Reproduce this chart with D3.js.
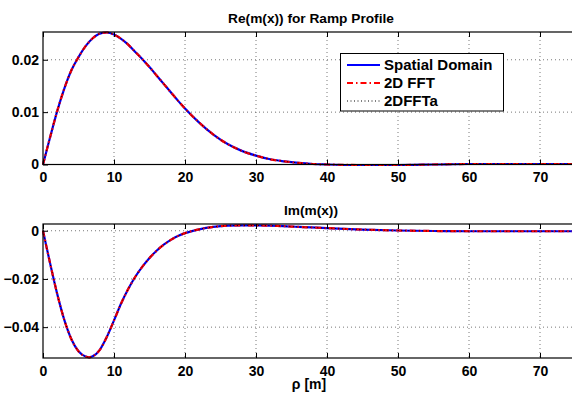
<!DOCTYPE html>
<html>
<head>
<meta charset="utf-8">
<script src="https://cdn.jsdelivr.net/npm/d3@7"></script>
<style>
  body { margin: 0; background: #fff; }
  text { font-family: "Liberation Sans", Arial, sans-serif; font-weight: bold; }
</style>
</head>
<body>
<script>
// chart size
var svgWidth = 572;
var svgHeight = 394;

// sample positions and values
var rhoRe = [0, 1, 2, 3, 4, 5, 6, 7, 8, 9, 10, 11, 12, 13, 14, 15, 16, 17, 18, 19, 20, 22, 24, 26, 28, 30, 32, 34, 36, 38, 40, 45, 50, 55, 60, 65, 70, 75];
var reSpatial = [0, 0.0052, 0.0102, 0.0145, 0.0180, 0.0205, 0.0226, 0.0241, 0.0250, 0.0252, 0.0248, 0.0240, 0.0229, 0.0215, 0.0201, 0.0186, 0.0170, 0.0154, 0.0138, 0.0122, 0.0107, 0.0080, 0.0057, 0.0039, 0.0026, 0.0017, 0.0010, 0.0006, 0.0003, 0.0001, 0, -0.0001, -0.0001, 0, 0.0001, 0.0001, 0.0001, 0.0001];
var reFFT = [0, 0.0052, 0.0102, 0.0145, 0.0180, 0.0205, 0.0226, 0.0241, 0.0250, 0.0252, 0.0248, 0.0240, 0.0229, 0.0215, 0.0201, 0.0186, 0.0170, 0.0154, 0.0138, 0.0122, 0.0107, 0.0080, 0.0057, 0.0039, 0.0026, 0.0017, 0.0010, 0.0006, 0.0003, 0.0001, 0, -0.0001, -0.0001, 0, 0.0001, 0.0001, 0.0001, 0.0001];
var reFFTa = [0, 0.0052, 0.0102, 0.0145, 0.0180, 0.0205, 0.0226, 0.0241, 0.0250, 0.0252, 0.0248, 0.0240, 0.0229, 0.0215, 0.0201, 0.0186, 0.0170, 0.0154, 0.0138, 0.0122, 0.0107, 0.0080, 0.0057, 0.0039, 0.0026, 0.0017, 0.0010, 0.0006, 0.0003, 0.0001, 0, -0.0001, -0.0001, 0, 0.0001, 0.0001, 0.0001, 0.0001];

var rhoIm = [0, 0.5, 1, 2, 3, 4, 5, 6, 6.5, 7, 8, 9, 10, 11, 12, 13, 14, 15, 16, 17, 18, 19, 20, 22, 24, 26, 28, 30, 33, 36, 40, 45, 50, 55, 60, 65, 70, 75];
var imSpatial = [0, -0.0068, -0.0135, -0.0262, -0.0370, -0.0450, -0.0500, -0.0522, -0.0525, -0.0521, -0.0494, -0.0440, -0.0372, -0.0302, -0.0242, -0.0191, -0.0149, -0.0113, -0.0083, -0.0058, -0.0038, -0.0022, -0.0010, 0.0006, 0.0016, 0.0021, 0.0022, 0.0022, 0.0020, 0.0016, 0.0011, 0.0005, 0.0001, -0.0001, -0.0002, -0.0002, -0.0002, -0.0002];
var imFFT = [0, -0.0068, -0.0135, -0.0262, -0.0370, -0.0450, -0.0500, -0.0522, -0.0525, -0.0521, -0.0494, -0.0440, -0.0372, -0.0302, -0.0242, -0.0191, -0.0149, -0.0113, -0.0083, -0.0058, -0.0038, -0.0022, -0.0010, 0.0006, 0.0016, 0.0021, 0.0022, 0.0022, 0.0020, 0.0016, 0.0011, 0.0005, 0.0001, -0.0001, -0.0002, -0.0002, -0.0002, -0.0002];
var imFFTa = [0, -0.0068, -0.0135, -0.0262, -0.0370, -0.0450, -0.0500, -0.0522, -0.0525, -0.0521, -0.0494, -0.0440, -0.0372, -0.0302, -0.0242, -0.0191, -0.0149, -0.0113, -0.0083, -0.0058, -0.0038, -0.0022, -0.0010, 0.0006, 0.0016, 0.0021, 0.0022, 0.0022, 0.0020, 0.0016, 0.0011, 0.0005, 0.0001, -0.0001, -0.0002, -0.0002, -0.0002, -0.0002];

// tick values
var xTicks = [0, 10, 20, 30, 40, 50, 60, 70];
var reTicks = [0, 0.01, 0.02];
var imTicks = [0, -0.02, -0.04];
var legendNames = ["Spatial Domain", "2D FFT", "2DFFTa"];

var svg = d3.select("body").append("svg")
  .attr("width", svgWidth)
  .attr("height", svgHeight);

// line styles per series (spatial, fft, ffta)
var styles = [
  { color: "#0000ff", width: 2.2, dash: null },
  { color: "#ff0000", width: 2.2, dash: "6,3,1.5,3" },
  { color: "#000000", width: 1, dash: "1,2.5" }
];

var fmt = function(d) { return d === 0 ? "0" : d3.format(".2f")(d).replace("-", "\u2212"); };

function drawPanel(opts) {
  var x = d3.scaleLinear().domain([0, 75]).range([43, 575.5]);
  var y = d3.scaleLinear().domain(opts.yDomain).range([opts.bottom, opts.top]);
  var g = svg.append("g");

  // grid
  g.selectAll(".gx").data(xTicks.slice(1)).enter().append("line")
    .attr("x1", d => x(d)).attr("x2", d => x(d))
    .attr("y1", opts.top).attr("y2", opts.bottom)
    .attr("stroke", "#555").attr("stroke-width", 0.8).attr("stroke-dasharray", "1,3");
  g.selectAll(".gy").data(opts.yTicks).enter().append("line")
    .attr("x1", x(0)).attr("x2", x(75))
    .attr("y1", d => y(d)).attr("y2", d => y(d))
    .attr("stroke", "#555").attr("stroke-width", 0.8).attr("stroke-dasharray", "1,3");

  // series
  var line = d3.line().x((d, i) => x(opts.xs[i])).y(d => y(d)).curve(d3.curveMonotoneX);
  opts.series.forEach(function(s, k) {
    g.append("path").datum(s)
      .attr("d", line)
      .attr("fill", "none")
      .attr("stroke", styles[k].color)
      .attr("stroke-width", styles[k].width)
      .attr("stroke-dasharray", styles[k].dash);
  });

  // axes, MATLAB style with ticks pointing inward
  var bottomAxis = d3.axisBottom(x).tickValues(xTicks).tickSize(-5).tickPadding(8).tickFormat(d3.format("d"));
  var topAxis = d3.axisTop(x).tickValues(xTicks).tickSize(-5).tickFormat("");
  var leftAxis = d3.axisLeft(y).tickValues(opts.yTicks).tickSize(-5).tickPadding(4).tickFormat(fmt);

  var ax = g.append("g").attr("transform", `translate(0, ${opts.bottom})`).call(bottomAxis);
  var at = g.append("g").attr("transform", `translate(0, ${opts.top})`).call(topAxis);
  var al = g.append("g").attr("transform", `translate(${x(0)}, 0)`).call(leftAxis);
  [ax, at, al].forEach(function(a) {
    a.select(".domain").remove();
    a.selectAll(".tick line").attr("stroke", "#000").attr("stroke-width", 1);
    a.selectAll("text").attr("font-size", 14).attr("font-weight", "bold").attr("fill", "#000")
      .attr("font-family", "Liberation Sans, Arial, sans-serif");
  });

  g.append("rect")
    .attr("x", x(0)).attr("y", opts.top)
    .attr("width", x(75) - x(0)).attr("height", opts.bottom - opts.top)
    .attr("fill", "none").attr("stroke", "#000").attr("stroke-width", 1.2);

  g.append("text")
    .attr("x", 311).attr("y", opts.top - 9)
    .attr("text-anchor", "middle")
    .attr("font-size", 13.7)
    .text(opts.title);
  return { x: x, y: y };
}

drawPanel({
  top: 32, bottom: 164.5, yDomain: [0, 0.0253],
  yTicks: reTicks, xs: rhoRe,
  series: [reSpatial, reFFT, reFFTa],
  title: "Re(m(x)) for Ramp Profile"
});

drawPanel({
  top: 224, bottom: 358, yDomain: [-0.0528, 0.0028],
  yTicks: imTicks, xs: rhoIm,
  series: [imSpatial, imFFT, imFFTa],
  title: "Im(m(x))"
});

// x label
svg.append("text")
  .attr("x", 309).attr("y", 389)
  .attr("text-anchor", "middle")
  .attr("font-size", 14)
  .text("\u03c1 [m]");

// legend
var legend = svg.append("g");
legend.append("rect")
  .attr("x", 340.5).attr("y", 53.5).attr("width", 163).attr("height", 57.5)
  .attr("fill", "#fff").attr("stroke", "#000").attr("stroke-width", 1);
legendNames.forEach(function(name, i) {
  var yy = 65 + i * 18;
  legend.append("line")
    .attr("x1", 347).attr("x2", 380).attr("y1", yy).attr("y2", yy)
    .attr("stroke", styles[i].color)
    .attr("stroke-width", styles[i].width)
    .attr("stroke-dasharray", styles[i].dash);
  legend.append("text")
    .attr("x", 384).attr("y", yy + 5)
    .attr("font-size", 15)
    .text(name);
});
</script>
</body>
</html>
